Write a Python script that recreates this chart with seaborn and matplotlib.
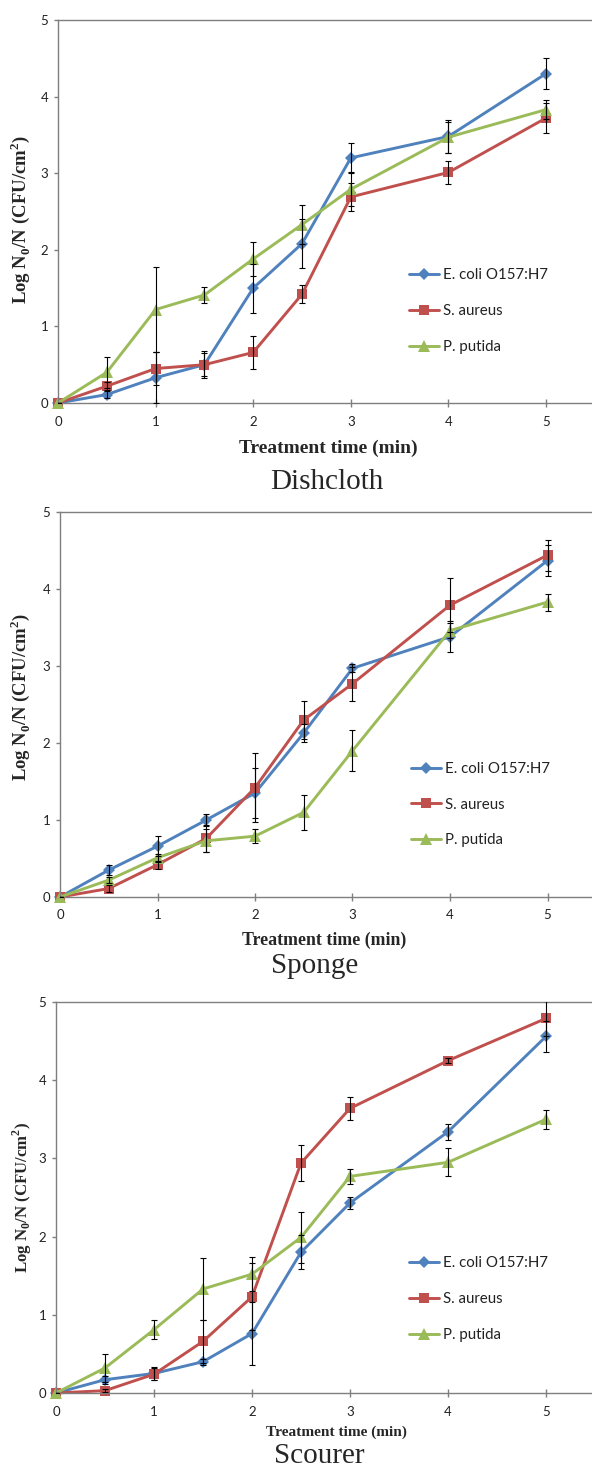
import numpy as np
import pandas as pd
import matplotlib
matplotlib.use("Agg")
import matplotlib.pyplot as plt
from matplotlib.lines import Line2D
import seaborn as sns

# treatment times (min)
time = [0, 0.5, 1, 1.5, 2, 2.5, 3, 4, 5]
organisms = ["E. coli O157:H7", "S. aureus", "P. putida"]
materials = ["Dishcloth", "Sponge", "Scourer"]

# Dishcloth
dish_ecoli = [0, 0.11, 0.33, 0.50, 1.50, 2.08, 3.20, 3.48, 4.30]
dish_ecoli_err = [0, 0.05, 0.33, 0.15, 0.32, 0.32, 0.20, 0.21, 0.20]
dish_saureus = [0, 0.22, 0.45, 0.50, 0.66, 1.42, 2.69, 3.01, 3.72]
dish_saureus_err = [0, 0.05, 0.22, 0.18, 0.22, 0.12, 0.18, 0.15, 0.20]
dish_pputida = [0, 0.40, 1.22, 1.41, 1.88, 2.33, 2.79, 3.47, 3.83]
dish_pputida_err = [0, 0.20, 0.55, 0.10, 0.22, 0.25, 0.22, 0.20, 0.12]

# Sponge
sponge_ecoli = [0, 0.35, 0.66, 1.00, 1.35, 2.13, 2.97, 3.38, 4.37]
sponge_ecoli_err = [0, 0.07, 0.13, 0.08, 0.33, 0.12, 0.05, 0.20, 0.20]
sponge_saureus = [0, 0.11, 0.42, 0.76, 1.42, 2.30, 2.77, 3.79, 4.44]
sponge_saureus_err = [0, 0.05, 0.05, 0.18, 0.45, 0.25, 0.22, 0.35, 0.20]
sponge_pputida = [0, 0.22, 0.51, 0.73, 0.79, 1.10, 1.90, 3.46, 3.83]
sponge_pputida_err = [0, 0.04, 0.05, 0.15, 0.09, 0.23, 0.27, 0.10, 0.11]

# Scourer
scour_ecoli = [0, 0.17, 0.25, 0.40, 0.76, 1.80, 2.43, 3.34, 4.56]
scour_ecoli_err = [0, 0.05, 0.08, 0.04, 0.40, 0.22, 0.08, 0.10, 0.20]
scour_saureus = [0, 0.03, 0.24, 0.66, 1.23, 2.94, 3.64, 4.25, 4.79]
scour_saureus_err = [0, 0.02, 0.08, 0.27, 0.43, 0.23, 0.15, 0.03, 0.22]
scour_pputida = [0, 0.32, 0.81, 1.33, 1.52, 1.99, 2.77, 2.95, 3.50]
scour_pputida_err = [0, 0.18, 0.12, 0.40, 0.22, 0.33, 0.10, 0.18, 0.12]

values = {
    "Dishcloth": [dish_ecoli, dish_saureus, dish_pputida],
    "Sponge": [sponge_ecoli, sponge_saureus, sponge_pputida],
    "Scourer": [scour_ecoli, scour_saureus, scour_pputida],
}
errors = {
    "Dishcloth": [dish_ecoli_err, dish_saureus_err, dish_pputida_err],
    "Sponge": [sponge_ecoli_err, sponge_saureus_err, sponge_pputida_err],
    "Scourer": [scour_ecoli_err, scour_saureus_err, scour_pputida_err],
}

rows = []
for m in materials:
    for org, vals, errs in zip(organisms, values[m], errors[m]):
        for t, v, e in zip(time, vals, errs):
            rows.append({"material": m, "organism": org, "time": t, "value": v, "err": e})
df = pd.DataFrame(rows)

colors = {"E. coli O157:H7": "#4F81BD", "S. aureus": "#C0504D", "P. putida": "#9BBB59"}
markers = {"E. coli O157:H7": "D", "S. aureus": "s", "P. putida": "^"}
msizes = {"E. coli O157:H7": 6.3, "S. aureus": 7.3, "P. putida": 8.3}

sns.set_style("white")
plt.rcParams["font.family"] = ["Lato", "DejaVu Sans"]
plt.rcParams["mathtext.fontset"] = "custom"
plt.rcParams["mathtext.rm"] = "Liberation Serif:bold"
plt.rcParams["mathtext.bf"] = "Liberation Serif:bold"

W, H = 592, 1469
fig = plt.figure(figsize=(W / 100, H / 100), dpi=100)

# pixel layout of each panel: left, top, bottom, px per x unit,
# xlabel center, ylabel center, caption center, label sizes
layout = {
    "Dishcloth": dict(left=58, top=20, bottom=403, ppx=97.6,
                      xl=(328, 448), yl=(20, 220), cap=(327, 482), fs=14, yfs=13.5),
    "Sponge": dict(left=60, top=512, bottom=897, ppx=97.5,
                   xl=(324, 940), yl=(20, 697), cap=(315, 966), fs=12.9, yfs=13.4),
    "Scourer": dict(left=56, top=1002, bottom=1393, ppx=98,
                    xl=(336, 1432), yl=(22, 1197), cap=(319, 1456), fs=11.1, yfs=12.1),
}

for m in materials:
    L = layout[m]
    ax = fig.add_axes([L["left"] / W, 1 - L["bottom"] / H,
                       (W - L["left"]) / W, (L["bottom"] - L["top"]) / H])
    sub = df[df["material"] == m]
    for org in organisms:
        s = sub[sub["organism"] == org]
        sns.lineplot(data=s, x="time", y="value", ax=ax, color=colors[org],
                     marker=markers[org], markersize=msizes[org], markeredgewidth=0,
                     linewidth=2.1, legend=False, errorbar=None, clip_on=False)
        ax.errorbar(s["time"], s["value"], yerr=s["err"], fmt="none",
                    ecolor="black", elinewidth=0.8, capsize=2.2, capthick=0.8, zorder=3)

    ax.set_xlim(0, (W - L["left"]) / L["ppx"])
    ax.set_ylim(0, 5)
    ax.set_xticks([0, 1, 2, 3, 4, 5])
    ax.set_yticks([0, 1, 2, 3, 4, 5])
    for sp in ["left", "bottom", "top"]:
        ax.spines[sp].set_color("#7f7f7f")
        ax.spines[sp].set_linewidth(1.0)
    ax.spines["right"].set_visible(False)
    ax.tick_params(axis="x", direction="inout", length=6, width=1, color="#7f7f7f",
                   labelsize=9.5, labelcolor="#222222", pad=6)
    ax.tick_params(axis="y", direction="out", length=3, width=1, color="#7f7f7f",
                   labelsize=9.5, labelcolor="#222222", pad=4, left=True)
    ax.tick_params(axis="x", bottom=True)

    ax.set_xlabel("Treatment time (min)", family="Liberation Serif", weight="bold",
                  fontsize=L["fs"], va="center")
    ax.xaxis.set_label_coords(L["xl"][0] / W, 1 - L["xl"][1] / H, transform=fig.transFigure)
    ax.set_ylabel(r"Log N$_0$/N (CFU/cm$^2$)", family="Liberation Serif", weight="bold",
                  fontsize=L["yfs"], va="center", ha="center")
    ax.yaxis.set_label_coords(L["yl"][0] / W, 1 - L["yl"][1] / H, transform=fig.transFigure)

    handles = [Line2D([], [], color=colors[o], marker=markers[o], markersize=msizes[o],
                      markeredgewidth=0, linewidth=2.1) for o in organisms]
    ax.legend(handles, organisms, loc="center left", bbox_to_anchor=(3.6, 1.2),
              bbox_transform=ax.transData, frameon=False, fontsize=10.8,
              handlelength=2.0, handletextpad=0.25, labelspacing=1.45,
              borderpad=0, borderaxespad=0, labelcolor="#222222")

    fig.text(L["cap"][0] / W, 1 - L["cap"][1] / H, m, family="Liberation Serif",
             fontsize=21, ha="center", va="center")

fig.savefig("out.png", dpi=100)
